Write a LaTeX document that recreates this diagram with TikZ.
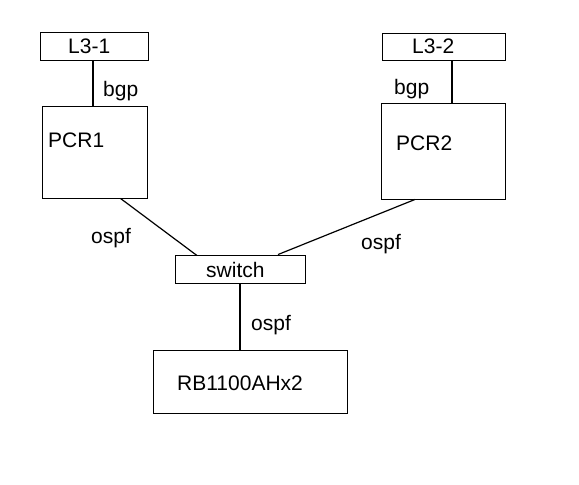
\documentclass[tikz,border=0pt]{standalone}
\usepackage{fontspec}
\setmainfont{Liberation Sans}
\usetikzlibrary{calc}
\begin{document}
\begin{tikzpicture}[x=1pt,y=-1pt,
  box/.style={draw=black,line width=0.9pt,rectangle,inner sep=0pt},
  txt/.style={inner sep=0pt,anchor=west,font=\fontsize{21}{24}\selectfont},
  thick link/.style={line width=1.8pt},
  thin link/.style={line width=1.2pt}]
\useasboundingbox[fill=white] (0,0) rectangle (579,485);
% boxes
\node[box,minimum width=108,minimum height=28] (l31) at (94,46) {};
\node[box,minimum width=123,minimum height=27] (l32) at (443.5,46.5) {};
\node[box,minimum width=105,minimum height=92] (pcr1) at (94.5,152) {};
\node[box,minimum width=124,minimum height=96] (pcr2) at (443,151) {};
\node[box,minimum width=130,minimum height=28] (sw) at (240,269) {};
\node[box,minimum width=194,minimum height=63] (rb) at (250,381.5) {};
% texts
\node[txt] (tl31) at (68,46) {L3-1};
\node[txt] (tl32) at (412,46) {L3-2};
\node[txt] (tpcr1) at (48,140) {PCR1};
\node[txt] (tpcr2) at (396,143) {PCR2};
\node[txt] (tsw) at (206,270) {switch};
\node[txt] (trb) at (177,383) {RB1100AHx2};
% labels
\node[txt] (bgp1) at (103,91) {bgp};
\node[txt] (bgp2) at (394,89) {bgp};
\node[txt] (o1) at (91,238) {ospf};
\node[txt] (o2) at (361,244) {ospf};
\node[txt] (o3) at (251,325) {ospf};
% connectors
\draw[thick link] ([xshift=-1]l31.south) -- ([xshift=-1.5]pcr1.north);
\draw[thick link] ([xshift=8.5]l32.south) -- ([xshift=9]pcr2.north);
\draw[thin link] ([xshift=26]pcr1.south) -- ([xshift=-43,yshift=-1]sw.north);
\draw[thin link] ([xshift=-28]pcr2.south) -- ([xshift=38]sw.north);
\draw[thick link] (sw.south) -- ([xshift=-10]rb.north);
\end{tikzpicture}
\end{document}
